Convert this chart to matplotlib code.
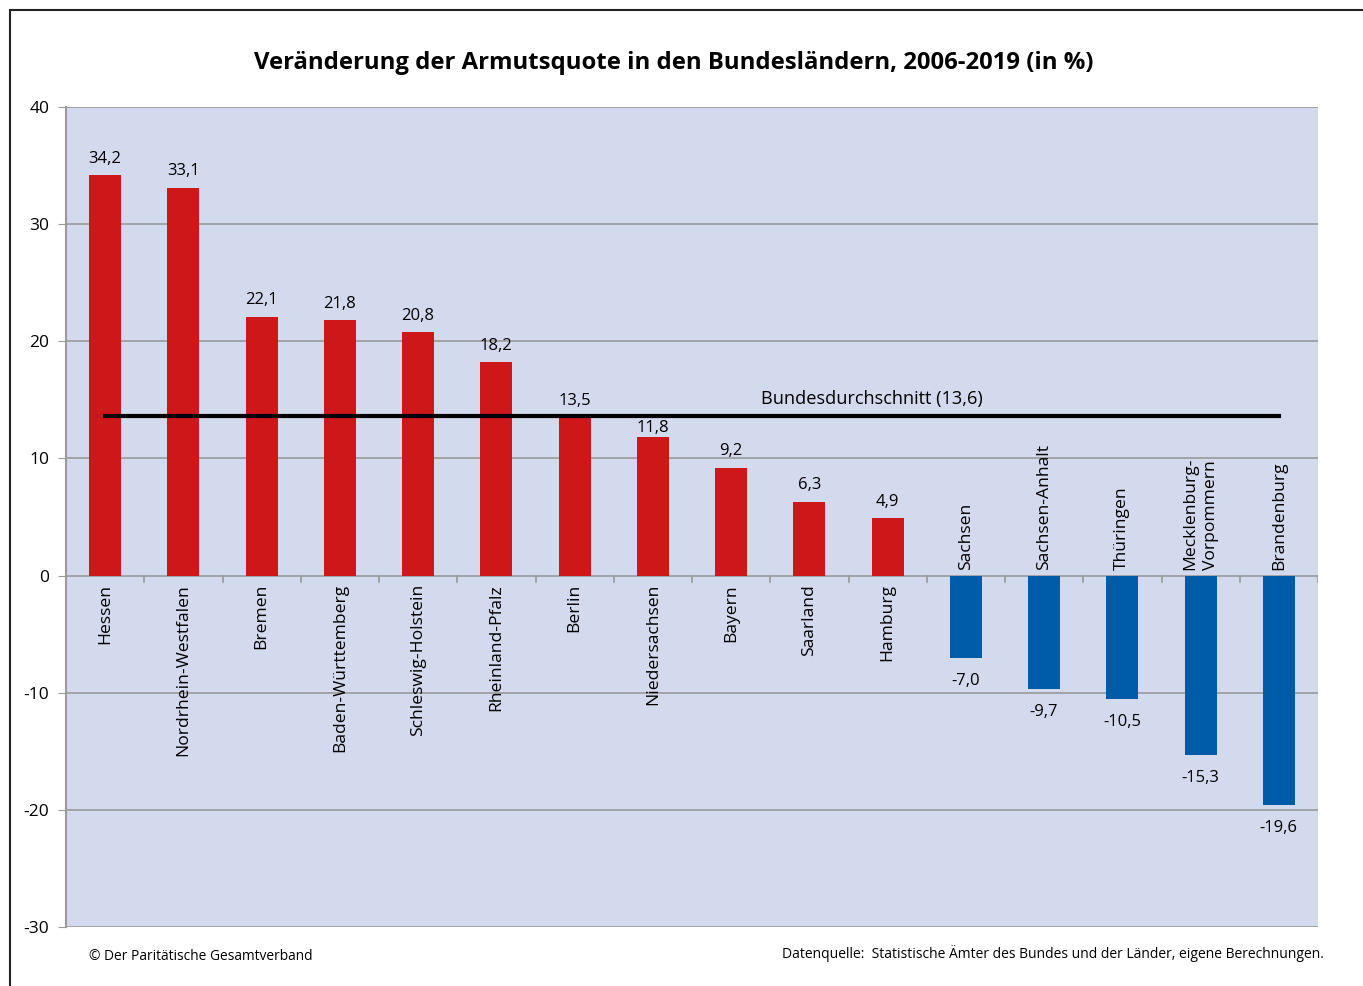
import matplotlib.pyplot as plt
import matplotlib.patches as mpatches
import numpy as np

# --- Data ---
laender = [
    "Hessen", "Nordrhein-Westfalen", "Bremen", "Baden-Württemberg",
    "Schleswig-Holstein", "Rheinland-Pfalz", "Berlin", "Niedersachsen",
    "Bayern", "Saarland", "Hamburg", "Sachsen", "Sachsen-Anhalt",
    "Thüringen", "Mecklenburg-\nVorpommern", "Brandenburg",
]
veraenderung = [34.2, 33.1, 22.1, 21.8, 20.8, 18.2, 13.5, 11.8,
                9.2, 6.3, 4.9, -7.0, -9.7, -10.5, -15.3, -19.6]
bundesschnitt = 13.6
y_ticks = [-30, -20, -10, 0, 10, 20, 30, 40]

RED = "#CD1719"
BLUE = "#005CA9"
BG = "#D4DAEE"
GRID = "#9A9A9A"

plt.rcParams["font.family"] = ["Open Sans", "DejaVu Sans"]

fig = plt.figure(figsize=(13.63, 9.86), dpi=100)
ax = fig.add_axes([66 / 1363, 1 - 927 / 986, (1318 - 66) / 1363, (927 - 107) / 986])
ax.set_facecolor(BG)

# Frame line around the whole figure (only top/left visible in original)
fig.patches.append(mpatches.Rectangle((10 / 1363, -0.1), 1.2, 1 - 10 / 986 + 0.1,
                                      transform=fig.transFigure, fill=False,
                                      edgecolor="#222222", linewidth=1.5))

x = np.arange(len(laender))
colors = [RED if v >= 0 else BLUE for v in veraenderung]
ax.bar(x, veraenderung, width=0.41, color=colors, zorder=3)

ax.set_xlim(-0.5, len(laender) - 0.5)
ax.set_ylim(-30, 40)
ax.set_yticks(y_ticks)
ax.set_yticklabels([str(t) for t in y_ticks], fontsize=12.5)
ax.tick_params(axis="y", length=6, color=GRID, pad=6)
ax.set_xticks([])

for t in y_ticks:
    ax.axhline(t, color=GRID, linewidth=1.2, zorder=1)

for side in ["top", "right", "bottom"]:
    ax.spines[side].set_visible(False)
ax.spines["left"].set_color(GRID)
ax.spines["left"].set_linewidth(1.5)

# category separators below the zero line
for b in np.arange(0.5, len(laender), 1.0):
    ax.plot([b, b], [0, -0.55], color=GRID, linewidth=1.2, zorder=2)

# Value labels and category labels
for xi, v, name in zip(x, veraenderung, laender):
    lbl = f"{v:.1f}".replace(".", ",")
    if v >= 0:
        # label sitting just under the average line gets moved closer to the bar
        off = 1 if 1 < bundesschnitt - v < 3 else 6
        ax.annotate(lbl, (xi, v), xytext=(0, off), textcoords="offset points",
                    ha="center", va="bottom", fontsize=12, zorder=4)
        ax.annotate(name, (xi, 0), xytext=(0, -6), textcoords="offset points",
                    ha="center", va="top", rotation=90, fontsize=12.6,
                    zorder=4)
    else:
        ax.annotate(lbl, (xi, v), xytext=(0, -11), textcoords="offset points",
                    ha="center", va="top", fontsize=12, zorder=4)
        ax.annotate(name, (xi, 0), xytext=(0, 4), textcoords="offset points",
                    ha="center", va="bottom", rotation=90, fontsize=12.6,
                    linespacing=1.38, multialignment="left", zorder=4)

# Federal average line
ax.plot([x[0], x[-1]], [bundesschnitt, bundesschnitt], color="black",
        linewidth=3, zorder=5)
ax.annotate("Bundesdurchschnitt (13,6)", (9.8, bundesschnitt), xytext=(0, 6),
            textcoords="offset points", ha="center", va="bottom", fontsize=13.1,
            zorder=6)

fig.text(674 / 1363, 1 - 63 / 986,
         "Veränderung der Armutsquote in den Bundesländern, 2006-2019 (in %)",
         ha="center", va="center", fontsize=17.2, fontweight="bold")
fig.text(89 / 1363, 1 - 956 / 986, "© Der Paritätische Gesamtverband",
         ha="left", va="center", fontsize=9.9)
fig.text(1324 / 1363, 1 - 953 / 986,
         "Datenquelle:  Statistische Ämter des Bundes und der Länder, eigene Berechnungen.",
         ha="right", va="center", fontsize=10.0)

fig.savefig("out.png", dpi=100, facecolor="white")
